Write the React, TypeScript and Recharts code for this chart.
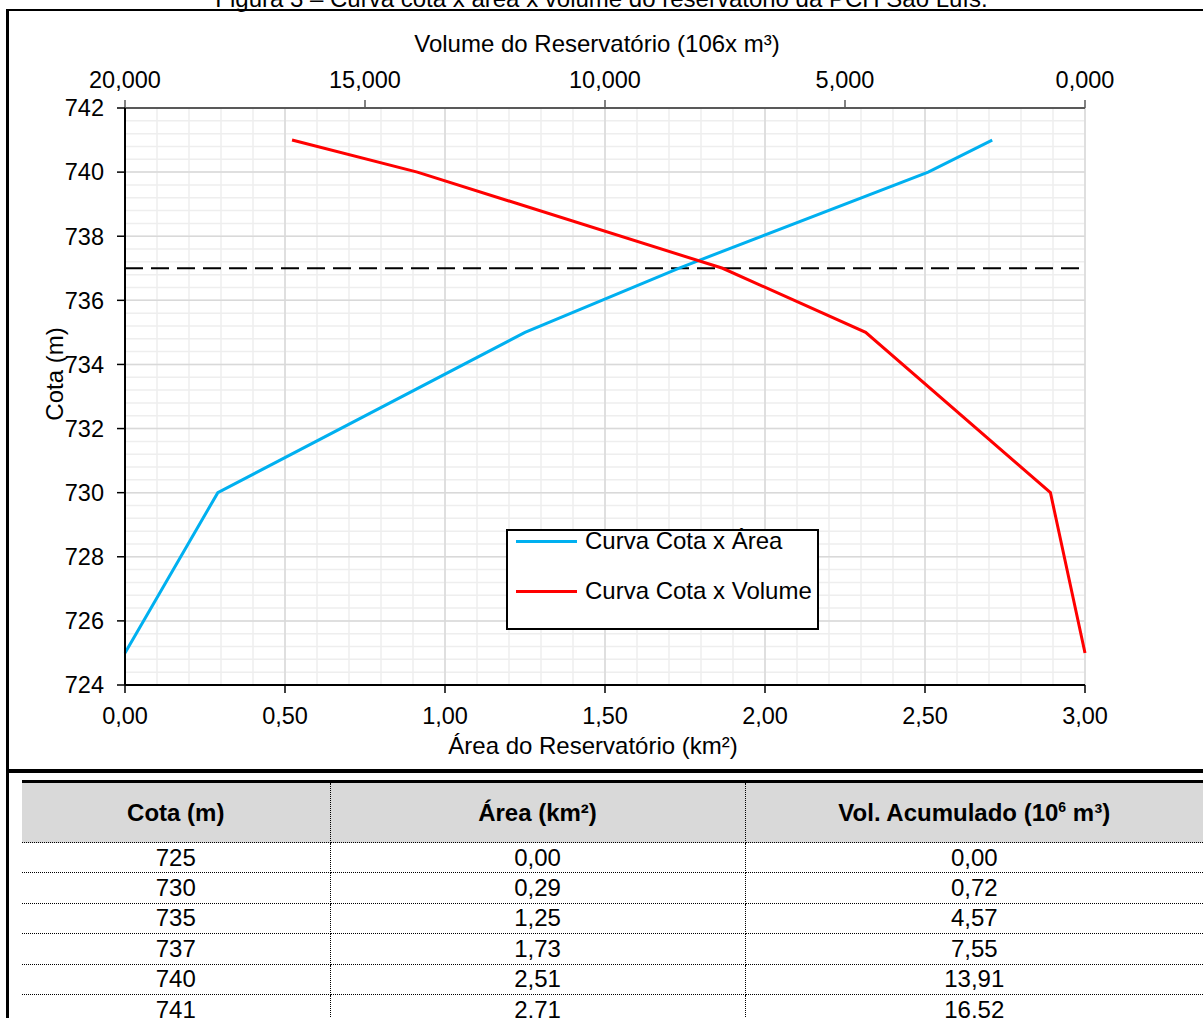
import React from 'react';
import { LineChart, Line, XAxis, YAxis, CartesianGrid, ReferenceLine } from 'recharts';

// cota x área x volume - PCH São Luís
const cota = [725, 730, 735, 737, 740, 741];
const area = [0.0, 0.29, 1.25, 1.73, 2.51, 2.71];
const volume = [0.0, 0.72, 4.57, 7.55, 13.91, 16.52];

const areaTicks = [0, 0.5, 1, 1.5, 2, 2.5, 3];
const volumeTicks = [0, 5, 10, 15, 20];
const cotaTicks = [724, 726, 728, 730, 732, 734, 736, 738, 740, 742];
const nivelNormal = 737;

const seriesNames = ['Curva Cota x Área', 'Curva Cota x Volume'];
const seriesColors = ['#00b0f0', '#ff0000'];

// minor grid: 0.1 km² and 0.4 m
const areaMinor = Array.from({ length: 31 }, (_, i) => i / 10);
const cotaMinor = Array.from({ length: 46 }, (_, i) => 724 + i * 0.4);

const data = cota.map((c, i) => ({ cota: c, area: area[i], vol: volume[i] }));

const FONT = '"Liberation Sans", Arial, sans-serif';
const fmt = (v: number, d: number) => v.toFixed(d).replace('.', ',');
const tickStyle = { fill: '#000', fontSize: 23.5, fontFamily: FONT };

const TopTitle = () => (
  <text x={587} y={40} textAnchor="middle" fontSize={24} fontFamily={FONT} fill="#000">
    Volume do Reservatório (106x m³)
  </text>
);
const BottomTitle = () => (
  <text x={583} y={742} textAnchor="middle" fontSize={24} fontFamily={FONT} fill="#000">
    Área do Reservatório (km²)
  </text>
);
const LeftTitle = () => (
  <text x={53} y={362} textAnchor="middle" fontSize={24} fontFamily={FONT} fill="#000"
    transform="rotate(-90, 53, 362)">
    Cota (m)
  </text>
);

const cellBase: React.CSSProperties = {
  textAlign: 'center',
  padding: 0,
  borderBottom: '1px dotted #000',
};

export default function App() {
  return (
    <div style={{ position: 'absolute', left: 0, top: 0, width: 1203, height: 1018, overflow: 'hidden', fontFamily: FONT, background: '#fff' }}>
      <div style={{ position: 'absolute', left: 0, top: -13, width: 1203, textAlign: 'center', fontSize: 24, lineHeight: '24px', whiteSpace: 'nowrap' }}>
        Figura 3 – Curva cota x área x volume do reservatório da PCH São Luís.
      </div>
      {/* frame */}
      <div style={{ position: 'absolute', left: 6, top: 9, width: 3, height: 1009, background: '#000' }} />
      <div style={{ position: 'absolute', left: 6, top: 9, width: 1197, height: 2, background: '#000' }} />
      <div style={{ position: 'absolute', left: 6, top: 769, width: 1197, height: 4, background: '#000' }} />

      <div style={{ position: 'absolute', left: 10, top: 12 }}>
        <LineChart width={1193} height={756} data={data} margin={{ top: 16, right: 118, left: 15, bottom: 13 }}>
          <CartesianGrid xAxisId="area" yAxisId="cota" stroke="#eeeeee" strokeWidth={1.5}
            verticalValues={areaMinor} horizontalValues={cotaMinor} />
          <CartesianGrid xAxisId="area" yAxisId="cota" stroke="#d9d9d9" strokeWidth={1.5}
            verticalValues={areaTicks} horizontalValues={cotaTicks} />
          <XAxis xAxisId="area" dataKey="area" type="number" orientation="bottom" domain={[0, 3]}
            ticks={areaTicks} tickFormatter={(v) => fmt(v, 2)} height={70} tick={tickStyle}
            tickSize={8} tickMargin={14} axisLine={{ stroke: '#000', strokeWidth: 2 }}
            tickLine={{ stroke: '#000', strokeWidth: 1.5 }} interval={0} label={BottomTitle} />
          <XAxis xAxisId="vol" dataKey="vol" type="number" orientation="top" domain={[0, 20]} reversed
            ticks={volumeTicks} tickFormatter={(v) => fmt(v, 3)} height={80} tick={tickStyle}
            tickSize={8} tickMargin={12} axisLine={{ stroke: '#595959', strokeWidth: 2 }}
            tickLine={{ stroke: '#595959', strokeWidth: 1.5 }} interval={0} label={TopTitle} />
          <YAxis yAxisId="cota" type="number" domain={[724, 742]} ticks={cotaTicks} width={100}
            tick={tickStyle} tickSize={8} tickMargin={13} axisLine={{ stroke: '#000', strokeWidth: 2 }}
            tickLine={{ stroke: '#000', strokeWidth: 1.5 }} interval={0} label={LeftTitle} />
          <ReferenceLine xAxisId="area" yAxisId="cota" y={nivelNormal} stroke="#000" strokeWidth={2}
            strokeDasharray="18 8" />
          <Line xAxisId="area" yAxisId="cota" dataKey="cota" name={seriesNames[0]} type="linear"
            stroke={seriesColors[0]} strokeWidth={3} dot={false} isAnimationActive={false} />
          <Line xAxisId="vol" yAxisId="cota" dataKey="cota" name={seriesNames[1]} type="linear"
            stroke={seriesColors[1]} strokeWidth={3} dot={false} isAnimationActive={false} />
        </LineChart>
      </div>

      {/* legend */}
      <div style={{ position: 'absolute', left: 506, top: 529, width: 309, height: 97, border: '2px solid #000', background: '#fff' }}>
        {seriesNames.map((n, i) => (
          <div key={n} style={{ position: 'absolute', left: 0, top: -2 + i * 50, height: 24, display: 'flex', alignItems: 'center', whiteSpace: 'nowrap' }}>
            <div style={{ marginLeft: 8, width: 61, height: 3, background: seriesColors[i] }} />
            <span style={{ marginLeft: 8, fontSize: 24, lineHeight: '24px' }}>{n}</span>
          </div>
        ))}
      </div>

      {/* table */}
      <table style={{ position: 'absolute', left: 22, top: 780, width: 1181, borderCollapse: 'collapse', tableLayout: 'fixed', fontSize: 24 }}>
        <colgroup>
          <col style={{ width: 308 }} />
          <col style={{ width: 415 }} />
          <col />
        </colgroup>
        <thead>
          <tr style={{ height: 61, background: '#d9d9d9', borderTop: '3px solid #000' }}>
            <th style={{ ...cellBase, borderRight: '1px dotted #000' }}>Cota (m)</th>
            <th style={{ ...cellBase, borderRight: '1px dotted #000' }}>Área (km²)</th>
            <th style={cellBase}>Vol. Acumulado (10<sup style={{ fontSize: 14 }}>6</sup> m³)</th>
          </tr>
        </thead>
        <tbody>
          {cota.map((c, i) => (
            <tr key={c} style={{ height: 30.4 }}>
              <td style={{ ...cellBase, borderRight: '1px dotted #000', lineHeight: '24px' }}>{c}</td>
              <td style={{ ...cellBase, borderRight: '1px dotted #000', lineHeight: '24px' }}>{fmt(area[i], 2)}</td>
              <td style={{ ...cellBase, lineHeight: '24px' }}>{fmt(volume[i], 2)}</td>
            </tr>
          ))}
        </tbody>
      </table>
    </div>
  );
}
